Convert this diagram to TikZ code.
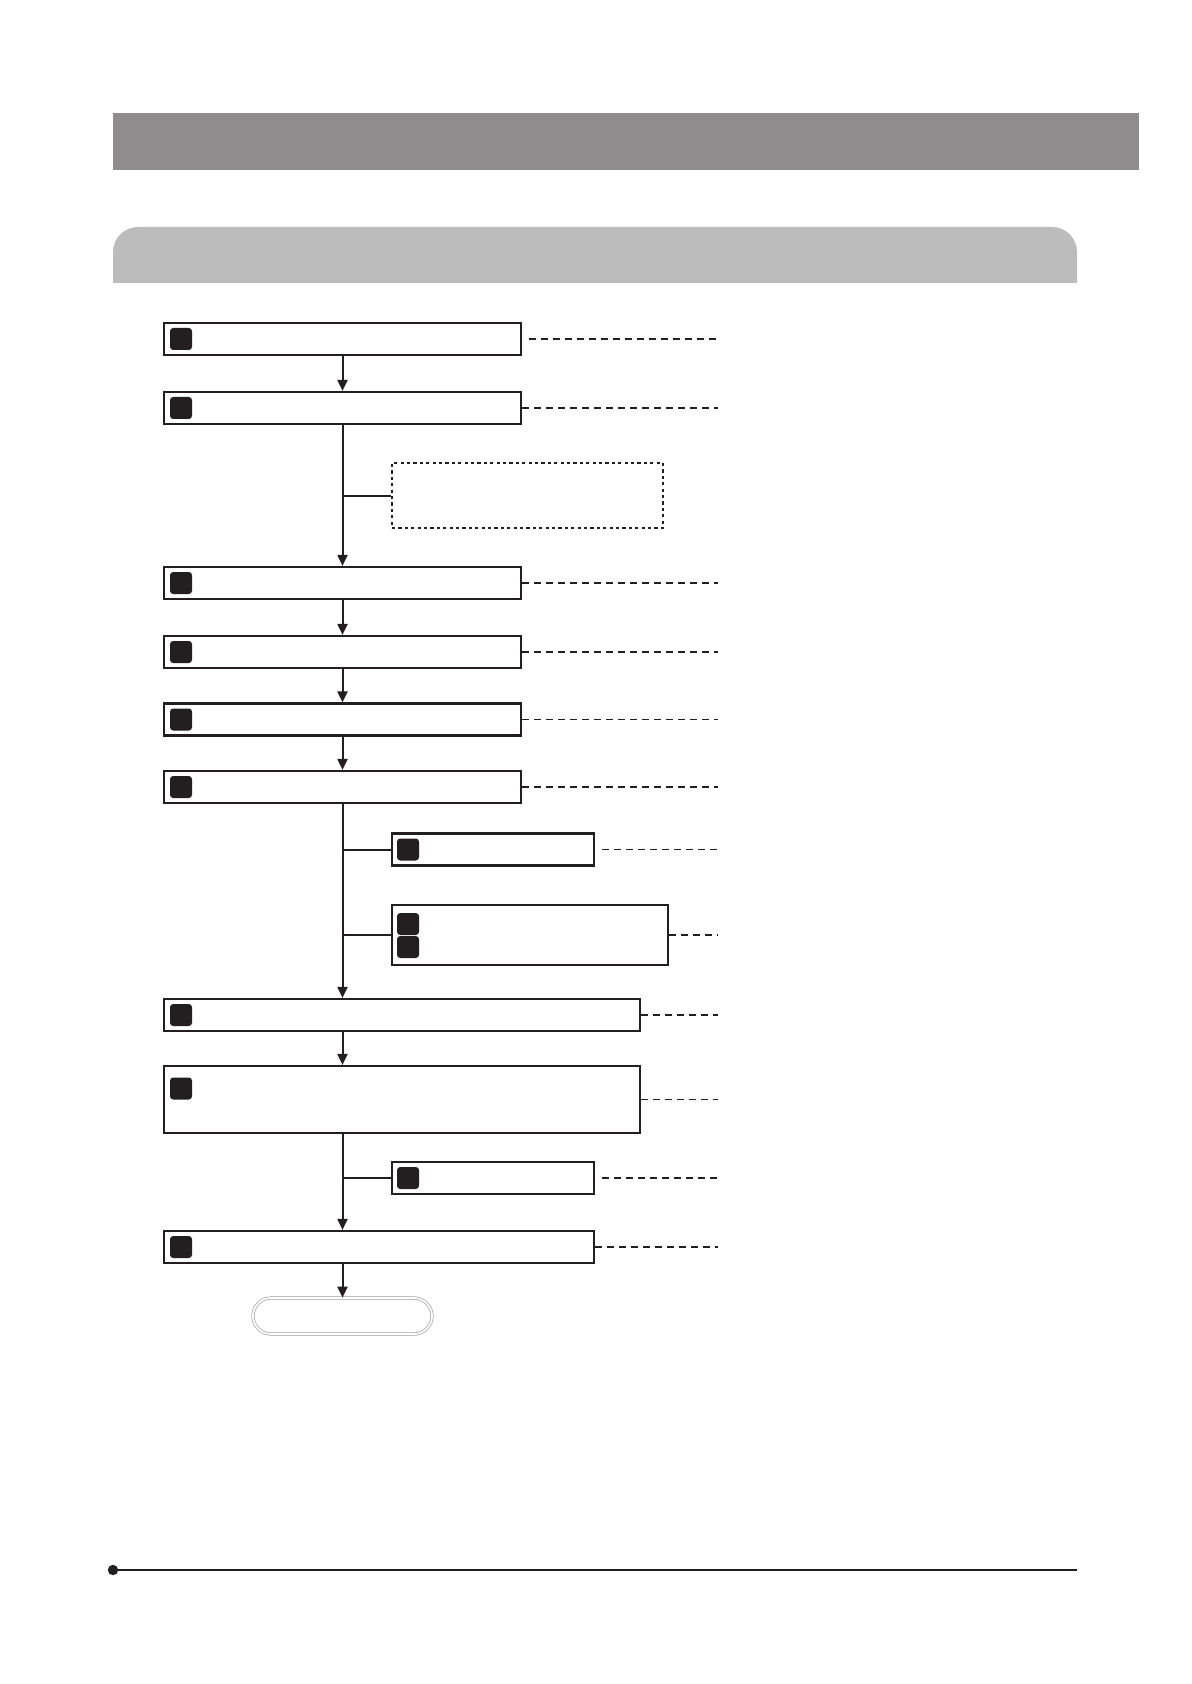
\documentclass[tikz,border=0pt]{standalone}
\usetikzlibrary{arrows.meta,calc}
\definecolor{darkbar}{HTML}{8E8C8D}
\definecolor{lightbar}{HTML}{BCBCBC}
\definecolor{ink}{HTML}{231F20}
\begin{document}
\begin{tikzpicture}[x=0.5pt,y=-0.5pt,
  stepbox/.style={draw=ink,line width=1.1pt,fill=white,inner sep=0pt,minimum height=16pt},
  optbox/.style={draw=ink,line width=0.8pt,dash pattern=on 1.6pt off 1.6pt,inner sep=0pt},
  marker/.style={fill=ink,rounded corners=1.6pt,inner sep=0pt,minimum width=11pt,minimum height=11pt},
  flow/.style={draw=ink,line width=1pt},
  flowarrow/.style={flow,-{Triangle[length=5.5pt,width=5pt]}},
  leader/.style={draw=ink,line width=0.8pt,dash pattern=on 3.5pt off 2.5pt},
  endbox/.style={draw=gray!75,line width=0.35pt,double=white,double distance=0.9pt,rounded corners=9pt,inner sep=0pt,minimum width=89.5pt,minimum height=18pt}]
\useasboundingbox (0,0) rectangle (1191,1684);
% header bars
\fill[darkbar] (113,113) rectangle (1139,170);
\begin{scope}
  \clip (113,226) rectangle (1077,283);
  \fill[lightbar,rounded corners=12.5pt] (113,227) rectangle (1077,320);
\end{scope}
% right column of leader ends
\coordinate (rx) at (718,0);
% main steps
\node[stepbox,minimum width=178.5pt] (b1) at (342.5,339) {};
\node[stepbox,minimum width=178.5pt] (b2) at (342.5,408) {};
\node[optbox,minimum width=135.5pt,minimum height=32.5pt] (opt) at (527.5,495.5) {};
\node[stepbox,minimum width=178.5pt] (b3) at (342.5,583) {};
\node[stepbox,minimum width=178.5pt] (b4) at (342.5,652) {};
\node[stepbox,minimum width=178.5pt] (b5) at (342.5,719.5) {};
\node[stepbox,minimum width=178.5pt] (b6) at (342.5,787) {};
\node[stepbox,minimum width=101pt] (sa) at (493,849.5) {};
\node[stepbox,minimum width=138pt,minimum height=30pt] (sb) at (530,935) {};
\node[stepbox,minimum width=238pt] (b7) at (402,1015) {};
\node[stepbox,minimum width=238pt,minimum height=33.5pt] (b8) at (402,1099.5) {};
\node[stepbox,minimum width=101pt] (sc) at (493,1178) {};
\node[stepbox,minimum width=215pt] (b9) at (379,1247) {};
\node[endbox] (end) at (342.5,1316) {};
% markers
\node[marker] (m1) at (181,339) {};
\node[marker] (m2) at (181,408) {};
\node[marker] (m3) at (181,583) {};
\node[marker] (m4) at (181,652) {};
\node[marker] (m5) at (181,719.5) {};
\node[marker] (m6) at (181,787) {};
\node[marker] (ma) at (408,849.5) {};
\node[marker] (mb1) at (408,924) {};
\node[marker] (mb2) at (408,947) {};
\node[marker] (m7) at (181,1015) {};
\node[marker] (m8) at (181,1088.5) {};
\node[marker] (mc) at (408,1178) {};
\node[marker] (m9) at (181,1247) {};
% flow connectors
\draw[flowarrow] (b1.south) -- (b2.north);
\draw[flowarrow] (b2.south) -- (b3.north);
\coordinate (j1) at (b2.south |- opt.west);
\draw[flow] (j1) -- (opt.west);
\draw[flowarrow] (b3.south) -- (b4.north);
\draw[flowarrow] (b4.south) -- (b5.north);
\draw[flowarrow] (b5.south) -- (b6.north);
\draw[flowarrow] (b6.south) -- (b6.south |- b7.north);
\coordinate (j2) at (b6.south |- sa.west);
\coordinate (j3) at (b6.south |- sb.west);
\draw[flow] (j2) -- (sa.west);
\draw[flow] (j3) -- (sb.west);
\draw[flowarrow] (b6.south |- b7.south) -- (b6.south |- b8.north);
\draw[flowarrow] (b6.south |- b8.south) -- (b6.south |- b9.north);
\coordinate (j4) at (b6.south |- sc.west);
\draw[flow] (j4) -- (sc.west);
\draw[flowarrow] (b6.south |- b9.south) -- (end.north);
% leaders
\draw[leader] ([xshift=3.5pt]b1.east) -- (b1.east -| rx);
\draw[leader] (b2.east) -- (b2.east -| rx);
\draw[leader] (b3.east) -- (b3.east -| rx);
\draw[leader] (b4.east) -- (b4.east -| rx);
\draw[leader] (b5.east) -- (b5.east -| rx);
\draw[leader] (b6.east) -- (b6.east -| rx);
\draw[leader] ([xshift=3.5pt]sa.east) -- (sa.east -| rx);
\draw[leader] (sb.east) -- (sb.east -| rx);
\draw[leader] (b7.east) -- (b7.east -| rx);
\draw[leader] (b8.east) -- (b8.east -| rx);
\draw[leader] ([xshift=3.5pt]sc.east) -- (sc.east -| rx);
\draw[leader] (b9.east) -- (b9.east -| rx);
% footer rule
\coordinate (fl) at (113,1570);
\coordinate (fr) at (1077,1570);
\draw[ink,line width=0.6pt] (fl) -- (fr);
\fill[ink] (fl) circle[radius=2.6pt];
\end{tikzpicture}
\end{document}
